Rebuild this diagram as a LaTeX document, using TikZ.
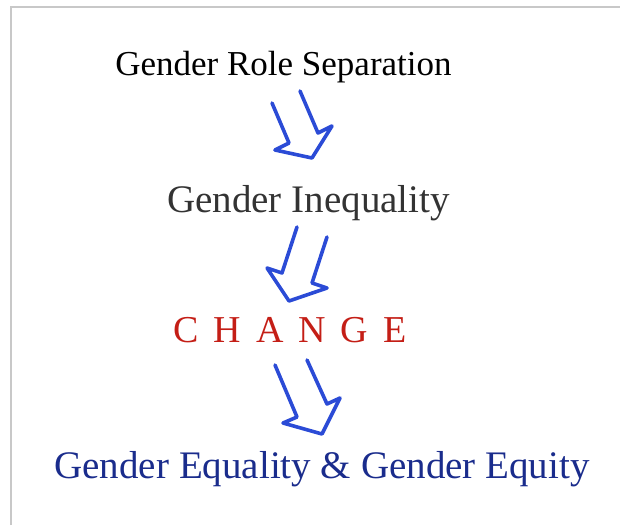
\documentclass[tikz,border=0pt]{standalone}
\usepackage{fontspec}
\setmainfont{Liberation Serif}
\definecolor{framegray}{HTML}{C8C8C8}
\definecolor{arrowblue}{HTML}{2B4BD6}
\definecolor{changered}{HTML}{C41E16}
\definecolor{equalblue}{HTML}{1A2C8C}
\definecolor{textgray}{HTML}{333333}

\begin{document}
\begin{tikzpicture}[x=1pt, y=-1pt]
\useasboundingbox (0,0) rectangle (620,525);
\draw [framegray, line width=1.5] (11,525) -- (11,7) -- (620,7);
  \node [anchor=base, font=\fontsize{35}{40}\selectfont] (role) at (283.5,75) {Gender Role Separation};
  \node [anchor=base, color=textgray, font=\fontsize{39}{44}\selectfont] (inequality) at (308.5,212) {Gender Inequality};
  \node [anchor=base, color=changered, font=\fontsize{38}{44}\selectfont] (change) at (290,342) {C\hspace{15pt}H\hspace{15pt}A\hspace{15pt}N\hspace{15pt}G\hspace{15pt}E};
  \node [anchor=base, color=equalblue, font=\fontsize{39}{44}\selectfont] (equality) at (322,478) {Gender Equality \& Gender Equity};
\draw [arrowblue, line width=3.6, line join=round, line cap=round] (272,103)
  -- (289,143) -- (275,150) -- (312,158) -- (332,126) -- (318,133) -- (300,91);
\draw [arrowblue, line width=3.6, line join=round, line cap=round] (297,227)
  -- (282,273) -- (267,268) -- (289,301) -- (327,288) -- (312,283) -- (327,237);
\draw [arrowblue, line width=3.6, line join=round, line cap=round] (275,365)
  -- (297,417) -- (283,423) -- (322,434) -- (340,398) -- (327,404) -- (307,360);
\end{tikzpicture}
\end{document}
